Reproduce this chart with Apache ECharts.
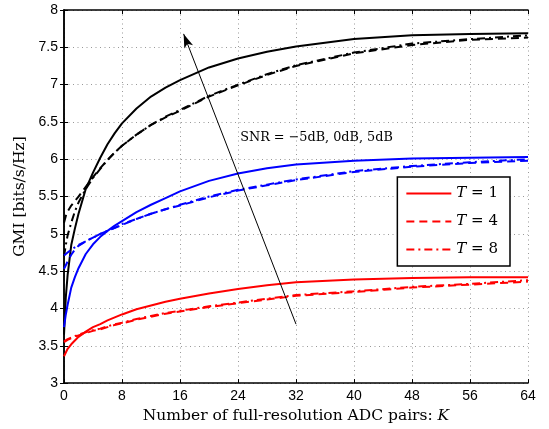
<!DOCTYPE html>
<html><head><meta charset="utf-8">
<script src="https://cdn.jsdelivr.net/npm/echarts@6/dist/echarts.min.js"></script>
<style>html,body{margin:0;padding:0;background:#fff}#c{width:549px;height:429px}</style>
</head><body><div id="c"></div>
<script>
const K = [0, 0.25, 0.5, 1, 1.5, 2, 3, 4, 5, 6, 7, 8, 10, 12, 14, 16, 20, 24, 28, 32, 40, 48, 56, 64];
// SNR = 5 dB (black)
const black_T1 = [3.65, 4.15, 4.45, 4.85, 5.07, 5.27, 5.6, 5.82, 6.02, 6.2, 6.35, 6.48, 6.68, 6.84, 6.96, 7.06, 7.23, 7.35, 7.44, 7.51, 7.61, 7.66, 7.68, 7.69];
const black_T4 = [5.15, 5.24, 5.3, 5.38, 5.44, 5.5, 5.63, 5.76, 5.88, 5.99, 6.09, 6.18, 6.33, 6.46, 6.56, 6.65, 6.84, 6.99, 7.13, 7.25, 7.42, 7.53, 7.6, 7.63];
const black_T8 = [4.7, 4.85, 4.98, 5.15, 5.3, 5.42, 5.6, 5.75, 5.87, 5.99, 6.09, 6.18, 6.33, 6.46, 6.57, 6.66, 6.85, 7.0, 7.14, 7.26, 7.43, 7.55, 7.61, 7.66];
// SNR = 0 dB (blue)
const blue_T1 = [3.75, 3.92, 4.05, 4.28, 4.42, 4.54, 4.73, 4.86, 4.96, 5.04, 5.11, 5.17, 5.29, 5.39, 5.48, 5.57, 5.71, 5.81, 5.88, 5.93, 5.98, 6.01, 6.02, 6.03];
const blue_T4 = [4.53, 4.58, 4.63, 4.72, 4.79, 4.84, 4.9, 4.95, 5.0, 5.04, 5.08, 5.12, 5.2, 5.27, 5.33, 5.38, 5.49, 5.58, 5.65, 5.72, 5.83, 5.9, 5.95, 5.98];
const blue_T8 = [4.71, 4.73, 4.75, 4.79, 4.82, 4.85, 4.9, 4.95, 5.0, 5.04, 5.08, 5.13, 5.2, 5.27, 5.33, 5.39, 5.5, 5.59, 5.66, 5.73, 5.84, 5.91, 5.96, 6.0];
// SNR = -5 dB (red)
const red_T1 = [3.36, 3.41, 3.46, 3.52, 3.57, 3.62, 3.69, 3.75, 3.79, 3.84, 3.88, 3.92, 3.99, 4.04, 4.09, 4.13, 4.2, 4.26, 4.31, 4.35, 4.39, 4.41, 4.42, 4.42];
const red_T4 = [3.55, 3.57, 3.58, 3.6, 3.62, 3.64, 3.67, 3.7, 3.72, 3.75, 3.78, 3.8, 3.85, 3.89, 3.93, 3.96, 4.02, 4.07, 4.12, 4.17, 4.22, 4.28, 4.32, 4.36];
const red_T8 = [3.56, 3.58, 3.59, 3.61, 3.63, 3.65, 3.68, 3.71, 3.73, 3.76, 3.79, 3.81, 3.86, 3.9, 3.94, 3.97, 4.03, 4.08, 4.13, 4.18, 4.23, 4.29, 4.33, 4.38];

const legendNames = ['T = 1', 'T = 4', 'T = 8'];
const arrowFrom = [32, 3.79];
const arrowTo = [16.5, 7.68];
const annotationText = 'SNR = −5dB, 0dB, 5dB';
const annotationAt = [24.3, 6.29];

const serif = '"DejaVu Serif", "Liberation Serif", serif';
const sans = '"Liberation Sans", Arial, sans-serif';
const DASH = [8, 5];
const DASHDOT = [8, 4, 2, 4];

function pairs(ys) { return K.map((k, i) => [k, ys[i]]); }
function mk(name, ys, color, type) {
  return {
    name: name, type: 'line', data: pairs(ys), showSymbol: false, symbol: 'circle',
    smooth: false,
    lineStyle: { color: color, width: 2, type: type }, itemStyle: { color: color },
    z: 3, animation: false
  };
}

const series = [
  mk('b1', black_T1, '#000000', 'solid'),
  mk('b4', black_T4, '#000000', DASH),
  mk('b8', black_T8, '#000000', DASHDOT),
  mk('u1', blue_T1, '#0000ff', 'solid'),
  mk('u4', blue_T4, '#0000ff', DASH),
  mk('u8', blue_T8, '#0000ff', DASHDOT),
  mk(legendNames[0], red_T1, '#ff0000', 'solid'),
  mk(legendNames[1], red_T4, '#ff0000', DASH),
  mk(legendNames[2], red_T8, '#ff0000', DASHDOT),
  {
    name: 'annot', type: 'line', data: [], animation: false,
    markLine: {
      silent: true, symbol: ['none', 'arrow'], symbolSize: [7, 14],
      lineStyle: { color: '#000', width: 1, type: 'solid' },
      label: { show: false },
      data: [[{ coord: arrowFrom }, { coord: arrowTo }]]
    },
    markPoint: {
      silent: true, symbol: 'circle', symbolSize: 0,
      label: { show: true, position: 'right', distance: 0, formatter: annotationText,
        fontFamily: serif, fontSize: 12.8, color: '#000' },
      data: [{ coord: annotationAt }]
    }
  }
];

const chart = echarts.init(document.getElementById('c'), null, { renderer: 'canvas' });
const axisCommon = {
  type: 'value',
  axisLine: { show: true, lineStyle: { color: '#000', width: 1.5 } },
  axisTick: { show: true, inside: true, length: 4, lineStyle: { color: '#000' } },
  splitLine: { show: false }
};
const gridLine = { show: true, lineStyle: { color: '#999', type: [1, 3.5], width: 1 } };
chart.setOption({
  animation: false,
  backgroundColor: '#fff',
  grid: { left: 64, right: 21, top: 10, bottom: 43, containLabel: false },
  legend: {
    data: legendNames, orient: 'vertical', right: 39, top: 177,
    backgroundColor: '#fff', borderColor: '#000', borderWidth: 1.5,
    padding: [9, 12, 9, 8], itemGap: 13, itemWidth: 45, itemHeight: 14,
    itemStyle: { opacity: 0 },
    formatter: function (n) { return '{i|T} ' + n.slice(2); },
    textStyle: { fontFamily: serif, fontSize: 15, color: '#000',
      rich: { i: { fontFamily: serif, fontSize: 15, fontStyle: 'italic', color: '#000' } } }
  },
  xAxis: [
    Object.assign({}, axisCommon, {
      min: 0, max: 64, interval: 8, position: 'bottom',
      axisLabel: { color: '#000', fontFamily: sans, fontSize: 14, margin: 6 },
      splitLine: gridLine,
      name: 'Number of full-resolution ADC pairs: {i|K}', nameLocation: 'middle', nameGap: 20,
      nameTextStyle: { fontFamily: serif, fontSize: 15.5, color: '#000',
        rich: { i: { fontFamily: serif, fontSize: 15.5, fontStyle: 'italic', color: '#000' } } }
    }),
    Object.assign({}, axisCommon, {
      min: 0, max: 64, interval: 8, position: 'top', axisLabel: { show: false }
    })
  ],
  yAxis: [
    Object.assign({}, axisCommon, {
      min: 3, max: 8, interval: 0.5, position: 'left',
      axisLabel: { color: '#000', fontFamily: sans, fontSize: 14, margin: 6 },
      splitLine: gridLine,
      name: 'GMI [bits/s/Hz]', nameLocation: 'middle', nameGap: 36, nameRotate: 90,
      nameTextStyle: { fontFamily: serif, fontSize: 15.5, color: '#000' }
    }),
    Object.assign({}, axisCommon, {
      min: 3, max: 8, interval: 0.5, position: 'right', axisLabel: { show: false }
    })
  ],
  series: series
});
</script></body></html>
